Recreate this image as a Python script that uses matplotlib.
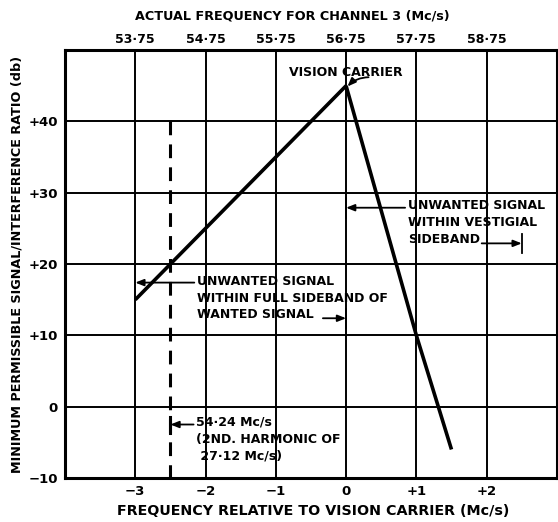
import matplotlib
matplotlib.use("Agg")
import matplotlib.pyplot as plt

# -------- Data --------
rel_ticks = [-3, -2, -1, 0, 1, 2]
rel_labels = ["\u22123", "\u22122", "\u22121", "0", "+1", "+2"]
ratio_ticks = [-10, 0, 10, 20, 30, 40]
ratio_labels = ["\u221210", "0", "+10", "+20", "+30", "+40"]
actual_ticks = [53.75, 54.75, 55.75, 56.75, 57.75, 58.75]
actual_labels = ["53\u00b775", "54\u00b775", "55\u00b775", "56\u00b775", "57\u00b775", "58\u00b775"]
VISION_CARRIER = 56.75   # Mc/s, channel 3

full_sideband_x = [-3, 0]
full_sideband_y = [15, 45]
vestigial_x = [0, 1, 1.5]
vestigial_y = [45, 10, -6]

harmonic_x = -2.5        # 54.24 Mc/s relative to carrier
harmonic_y = [40, -10]

# -------- Style --------
plt.rcParams["font.family"] = ["DejaVu Sans"]
plt.rcParams["font.weight"] = "bold"
FS = 9
LS = 1.38
ink = "black"

fig = plt.figure(figsize=(5.58, 5.22), dpi=100)
ax = fig.add_axes([0.1165, 0.0843, 0.8815, 0.8197])

ax.set_xlim(-4, 3)
ax.set_ylim(-10, 50)

ax.set_xticks(rel_ticks)
ax.set_xticklabels(rel_labels, fontsize=FS + 0.5, fontweight="bold")
ax.set_yticks(ratio_ticks)
ax.set_yticklabels(ratio_labels, fontsize=FS + 0.5, fontweight="bold")
ax.tick_params(length=0, pad=5)
ax.grid(True, color=ink, linewidth=1.4)

for s in ax.spines.values():
    s.set_linewidth(2.2)

ax.set_ylabel("MINIMUM PERMISSIBLE SIGNAL/INTERFERENCE RATIO (db)", fontsize=9.2, fontweight="bold", labelpad=4)

# axis titles placed like the original lettering
fig.text(0.561, 0.008, "FREQUENCY RELATIVE TO VISION CARRIER (Mc/s)", fontsize=10.3,
         fontweight="bold", ha="center", va="bottom")
fig.text(0.523, 0.969, "ACTUAL FREQUENCY FOR CHANNEL 3 (Mc/s)", fontsize=9.2,
         fontweight="bold", ha="center", va="center")

# top axis: actual frequency
top = ax.secondary_xaxis("top", functions=(lambda x: x + VISION_CARRIER, lambda x: x - VISION_CARRIER))
top.set_xticks(actual_ticks)
top.set_xticklabels(actual_labels, fontsize=FS, fontweight="bold")
top.tick_params(length=0, pad=3)

# -------- Curves --------
ax.plot(full_sideband_x, full_sideband_y, color=ink, lw=2.6, solid_capstyle="butt", zorder=3)
ax.plot(vestigial_x, vestigial_y, color=ink, lw=2.6, solid_capstyle="butt", zorder=3)
ax.plot([harmonic_x, harmonic_x], harmonic_y, color=ink, lw=2.2, dashes=(4.5, 3), zorder=3)

# -------- Annotations --------
arrow = dict(arrowstyle="-|>,head_length=0.5,head_width=0.2", color=ink, lw=1.3, shrinkA=0, shrinkB=0)

ax.text(0, 46.9, "VISION CARRIER", fontsize=FS, fontweight="bold", ha="center", va="center")
ax.annotate("", xy=(0.02, 44.9), xytext=(0.32, 46.2),
            arrowprops=dict(arrow, connectionstyle="arc3,rad=0.2"))

# vestigial sideband
ax.text(0.88, 29.1, "UNWANTED SIGNAL\nWITHIN VESTIGIAL\nSIDEBAND", fontsize=FS, fontweight="bold",
        ha="left", va="top", linespacing=LS)
ax.annotate("", xy=(0, 27.9), xytext=(0.84, 27.9), arrowprops=arrow)
ax.plot([0, 0], [26.5, 29.3], color=ink, lw=1.3)
ax.annotate("", xy=(2.5, 22.9), xytext=(1.93, 22.9), arrowprops=arrow)
ax.plot([2.5, 2.5], [21.6, 24.2], color=ink, lw=1.3)

# full sideband
ax.text(-2.12, 18.5, "UNWANTED SIGNAL\nWITHIN FULL SIDEBAND OF\nWANTED SIGNAL", fontsize=FS,
        fontweight="bold", ha="left", va="top", linespacing=LS)
ax.annotate("", xy=(-3, 17.4), xytext=(-2.16, 17.4), arrowprops=arrow)
ax.annotate("", xy=(0, 12.4), xytext=(-0.33, 12.4), arrowprops=arrow)
ax.plot([0, 0], [11.1, 13.7], color=ink, lw=1.3)

# harmonic
ax.text(-2.14, -1.3, "54\u00b724 Mc/s\n(2ND. HARMONIC OF\n 27\u00b712 Mc/s)", fontsize=FS,
        fontweight="bold", ha="left", va="top", linespacing=LS)
ax.annotate("", xy=(-2.5, -2.5), xytext=(-2.17, -2.5), arrowprops=arrow)
ax.plot([-2.5, -2.5], [-1.5, -3.7], color=ink, lw=2.2)

fig.savefig("out.png", dpi=100)
